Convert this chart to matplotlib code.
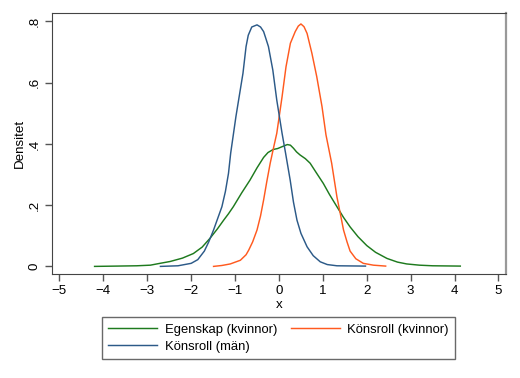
import matplotlib
matplotlib.use("Agg")
import matplotlib.pyplot as plt

plt.rcParams['font.family'] = ['Liberation Sans', 'DejaVu Sans']

# Egenskap (kvinnor)
egen_x = [-4.2, -3.7, -3.24, -2.93, -2.71, -2.48, -2.2, -1.95, -1.75, -1.57,
          -1.4, -1.26, -1.15, -1.04, -0.85, -0.66, -0.5, -0.35, -0.25, -0.13,
          -0.03, 0.07, 0.19, 0.26, 0.33, 0.4, 0.48, 0.6, 0.71, 0.85, 1.01,
          1.15, 1.32, 1.47, 1.62, 1.8, 2.0, 2.2, 2.46, 2.7, 2.91, 3.2, 3.5,
          4.13]
egen_y = [0.0, 0.001, 0.002, 0.004, 0.01, 0.016, 0.027, 0.042, 0.063, 0.092,
          0.123, 0.151, 0.172, 0.195, 0.24, 0.282, 0.322, 0.356, 0.372, 0.382,
          0.385, 0.391, 0.398, 0.396, 0.386, 0.374, 0.364, 0.352, 0.337, 0.306,
          0.271, 0.235, 0.195, 0.16, 0.129, 0.097, 0.068, 0.046, 0.026, 0.014,
          0.008, 0.004, 0.002, 0.001]

# Könsroll (kvinnor)
kvinna_x = [-1.49, -1.3, -1.11, -0.88, -0.75, -0.69, -0.6, -0.5, -0.42, -0.35,
            -0.28, -0.2, -0.12, -0.05, 0.07, 0.16, 0.26, 0.37, 0.44, 0.5,
            0.57, 0.64, 0.75, 0.86, 0.98, 1.07, 1.2, 1.32, 1.4, 1.47, 1.55,
            1.62, 1.75, 1.92, 2.15, 2.43]
kvinna_y = [0.0, 0.003, 0.008, 0.02, 0.038, 0.053, 0.08, 0.119, 0.165, 0.217,
            0.275, 0.337, 0.39, 0.435, 0.554, 0.652, 0.729, 0.767, 0.785, 0.792,
            0.783, 0.761, 0.696, 0.62, 0.522, 0.43, 0.337, 0.227, 0.17, 0.119,
            0.08, 0.05, 0.025, 0.01, 0.004, 0.001]

# Könsroll (män)
man_x = [-2.7, -2.3, -2.0, -1.85, -1.7, -1.6, -1.49, -1.4, -1.3, -1.22, -1.15,
         -1.1, -1.04, -0.98, -0.92, -0.82, -0.75, -0.7, -0.62, -0.5, -0.42,
         -0.35, -0.3, -0.24, -0.14, -0.05, 0.07, 0.15, 0.255, 0.33, 0.41,
         0.5, 0.64, 0.78, 0.94, 1.1, 1.32, 1.97]
man_y = [0.0, 0.002, 0.01, 0.022, 0.05, 0.08, 0.119, 0.155, 0.195, 0.245,
         0.304, 0.37, 0.43, 0.49, 0.543, 0.631, 0.718, 0.755, 0.782, 0.789,
         0.782, 0.767, 0.745, 0.718, 0.641, 0.543, 0.435, 0.37, 0.282, 0.21,
         0.151, 0.108, 0.064, 0.035, 0.015, 0.006, 0.002, 0.001]

fig = plt.figure(figsize=(5.2, 3.78), dpi=100)
ax = fig.add_axes([0.1, 0.275, 0.873, 0.69])

l1, = ax.plot(egen_x, egen_y, color='#1e7a1e', lw=1.05, label='Egenskap (kvinnor)')
l2, = ax.plot(kvinna_x, kvinna_y, color='#ff5a1f', lw=1.05, label='Könsroll (kvinnor)')
l3, = ax.plot(man_x, man_y, color='#2c5a88', lw=1.05, label='Könsroll (män)')

ax.set_xlim(-5.17, 5.17)
ax.set_ylim(-0.025, 0.827)
ax.set_xticks(range(-5, 6))
ax.set_yticks([0, 0.2, 0.4, 0.6, 0.8])
ax.set_yticklabels(['0', '.2', '.4', '.6', '.8'], rotation=90, va='center')
ax.tick_params(direction='out', length=5, width=1, color='#555555',
               labelsize=9.6, pad=3)
ax.set_xlabel('x', fontsize=9.6, labelpad=1)
ax.set_ylabel('Densitet', fontsize=9.6, labelpad=2)
for side in ['left', 'bottom', 'top']:
    ax.spines[side].set_color('#444444')
ax.spines['right'].set_color('#999999')
ax.spines['right'].set_linewidth(1.6)

# kolumnvis ordning: Egenskap + män i första kolumnen
leg = fig.legend(handles=[l1, l3, l2], ncol=2, loc='center',
                 bbox_to_anchor=(0.184, 0.05, 0.703, 0.111), mode='expand',
                 fontsize=9.4, frameon=True, fancybox=False, handlelength=3.75,
                 handletextpad=0.6, borderpad=0.45, labelspacing=0.4,
                 columnspacing=1.5)
leg.get_frame().set_edgecolor('#444444')
leg.get_frame().set_linewidth(1.0)

fig.savefig('out.png', dpi=100)
